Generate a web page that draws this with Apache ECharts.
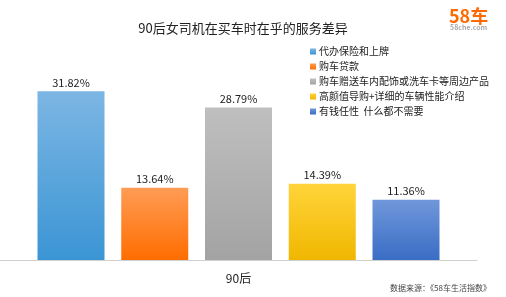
<!DOCTYPE html>
<html><head><meta charset="utf-8">
<script src="https://cdn.jsdelivr.net/npm/echarts@6/dist/echarts.min.js"></script>
<style>html,body{margin:0;padding:0;background:#fff}#c{width:506px;height:297px}</style>
</head><body><div id="c"></div>
<script>
const categories = ['90后'];
const seriesNames = ['代办保险和上牌','购车贷款','购车赠送车内配饰或洗车卡等周边产品','高颜值导购+详细的车辆性能介绍','有钱任性  什么都不需要'];
const seriesValues = [31.82, 13.64, 28.79, 14.39, 11.36];
const topColors = ['#7cb6e4','#ff9c55','#bfbfbf','#ffd43a','#7097da'];
const bottomColors = ['#3b95d4','#ff6d00','#a3a3a3','#f0b700','#3a6dc5'];
const F = '"Microsoft YaHei","Noto Sans CJK SC",sans-serif';
const chart = echarts.init(document.getElementById('c'));
chart.setOption({
  animation:false,
  title:{text:'90后女司机在买车时在乎的服务差异',left:238,top:17,textAlign:'center',
    textStyle:{fontSize:13,fontWeight:'normal',color:'#222',fontFamily:F}},
  legend:{orient:'vertical',left:305,top:41,itemWidth:6,itemHeight:6,itemGap:4,icon:'rect',
    textStyle:{fontSize:10,lineHeight:11,color:'#222',fontFamily:F,padding:[0,0,0,-2]}},
  grid:{left:0,right:29,top:48,bottom:37},
  xAxis:{type:'category',data:categories,
    axisLine:{lineStyle:{color:'#d0d0d0',width:1}},axisTick:{show:false},
    axisLabel:{fontSize:12,color:'#222',margin:12,fontFamily:F}},
  yAxis:{type:'value',min:0,max:40,show:false,splitLine:{show:false}},
  graphic:[
    {type:'text',left:449,top:7,style:{text:'58车',fontSize:18,fontWeight:'bold',fill:'#ff6a00',fontFamily:F}},
    {type:'text',left:450,top:24,style:{text:'58che.com',fontSize:7,fontWeight:'bold',fill:'#aaa',fontFamily:F}},
    {type:'text',right:15,top:284,style:{text:'数据来源：《58车生活指数》',fontSize:8,fill:'#444',fontFamily:F}}
  ],
  series: seriesNames.map((n,i)=>({
    name:n,type:'bar',barWidth:67,barGap:'25%',
    data:[seriesValues[i]],
    itemStyle:{color:new echarts.graphic.LinearGradient(0,0,0,1,[{offset:0,color:topColors[i]},{offset:1,color:bottomColors[i]}])},
    label:{show:true,position:'top',distance:3,formatter:p=>p.value.toFixed(2)+'%',fontSize:11,color:'#222',fontFamily:F}
  }))
});
</script></body></html>
